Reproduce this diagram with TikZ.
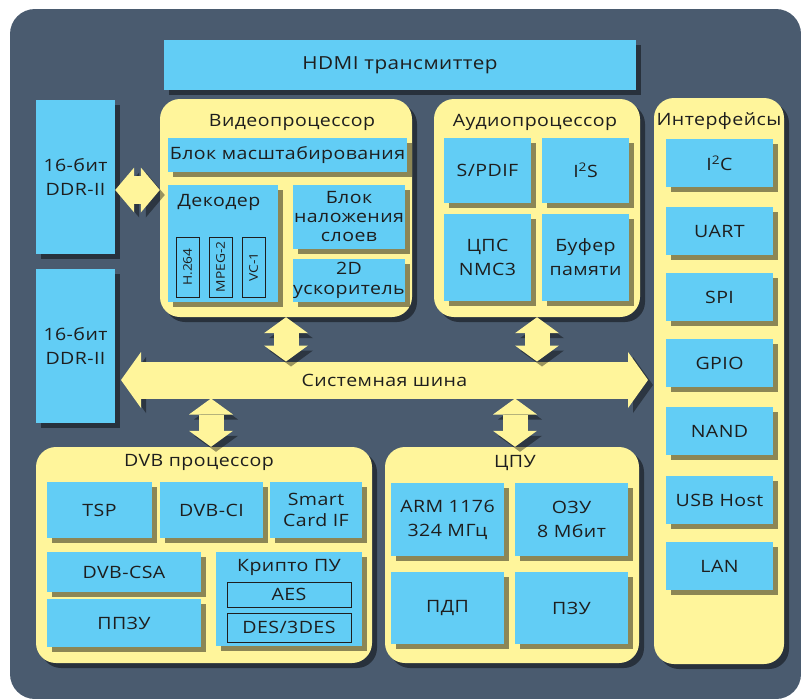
\documentclass[tikz,border=0pt]{standalone}
\usepackage{fontspec}
\setmainfont{Open Sans}[FakeStretch=1.15, LetterSpace=2.5]
\usetikzlibrary{positioning,shadows,arrows.meta}
\definecolor{slate}{HTML}{4A5B6F}
\definecolor{cream}{HTML}{FFF59B}
\definecolor{sky}{HTML}{62CDF5}
\definecolor{ink}{HTML}{1E1E1E}
\begin{document}
\begin{tikzpicture}[x=1pt, y=-1pt,
        shade/.style={drop shadow={shadow xshift=5pt, shadow yshift=-5pt, opacity=.45, fill=black}},
        unit/.style={rectangle, rounded corners=20pt, fill=cream, shade, inner sep=0pt},
        block/.style={rectangle, fill=sky, shade, text=ink, align=center, inner sep=0pt, font=\fontsize{17}{24}\selectfont},
        codec/.style={rectangle, draw=ink, thick, rotate=90, minimum width=60pt, minimum height=23pt, inner sep=0pt, text=ink, font=\addfontfeatures{LetterSpace=0}\fontsize{12}{15}\selectfont},
        cipher/.style={rectangle, draw=ink, thick, minimum width=124pt, inner sep=0pt, text=ink, font=\fontsize{17}{20}\selectfont},
        title/.style={text=ink, font=\fontsize{17}{20}\selectfont},
        port/.style={block, minimum width=107pt, minimum height=48pt},
        fat/.style args={#1/#2/#3}{draw=cream, line width=#1,
          {Triangle[width=#2,length=#3,line width=0pt 0]}-{Triangle[width=#2,length=#3,line width=0pt 0]},
          preaction={draw=black, opacity=.4, transform canvas={shift={(5pt,-5pt)}}}},
      ]
      \useasboundingbox (0,0) rectangle (801,699);
      \fill[slate, rounded corners=25pt] (10,9) rectangle (801,699);

      %Nodes
      \node[block, minimum width=472pt, minimum height=50pt, font=\fontsize{18}{21}\selectfont] (hdmi) at (400,65) {HDMI трансмиттер};
      \node[block, minimum width=79pt, minimum height=154pt] (ddr1) at (75.5,177) {16-бит\\DDR-II};
      \node[block, minimum width=79pt, minimum height=154pt] (ddr2) at (75.5,346) {16-бит\\DDR-II};

      \node[unit, minimum width=252pt, minimum height=218pt] (video) at (286,208) {};
      \node[title] (videot) at (292,122) {Видеопроцессор};
      \node[block, minimum width=239pt, minimum height=34pt] (scaler) at (287.5,155) {Блок масштабирования};
      \node[block, minimum width=110pt, minimum height=117pt] (decoder) at (223,243.5) {};
      \node[title] (decodert) at (219,202) {Декодер};
      \node[codec] (h264) at (187.5,267) {H.264};
      \node[codec] (mpeg) at (220.5,267) {MPEG-2};
      \node[codec] (vc1) at (253.5,267) {VC-1};
      \node[block, minimum width=112pt, minimum height=64pt, font=\fontsize{17}{19}\selectfont] (overlay) at (349,217) {Блок\\наложения\\слоев};
      \node[block, minimum width=112pt, minimum height=43pt, font=\fontsize{17}{20}\selectfont] (accel) at (349,280.5) {2D\\ускоритель};

      \node[unit, minimum width=206pt, minimum height=218pt] (audio) at (537,208) {};
      \node[title] (audiot) at (535,122) {Аудиопроцессор};
      \node[block, minimum width=87pt, minimum height=65pt] (spdif) at (487.5,170.5) {S/PDIF};
      \node[block, minimum width=87pt, minimum height=65pt] (i2s) at (585.5,170.5) {I\textsuperscript{2}S};
      \node[block, minimum width=87pt, minimum height=87pt] (dsp) at (487.5,257.5) {ЦПС\\NMC3};
      \node[block, minimum width=87pt, minimum height=87pt] (buffer) at (585.5,257.5) {Буфер\\памяти};

      \node[unit, minimum width=130pt, minimum height=566pt] (iface) at (719,381) {};
      \node[title] (ifacet) at (719,121) {Интерфейсы};
      \node[port] (i2c) at (719.5,163) {I\textsuperscript{2}C};
      \node[port] (uart) at (719.5,231) {UART};
      \node[port] (spi) at (719.5,297) {SPI};
      \node[port] (gpio) at (719.5,363) {GPIO};
      \node[port] (nand) at (719.5,431) {NAND};
      \node[port] (usb) at (719.5,500) {USB Host};
      \node[port] (lan) at (719.5,566) {LAN};

      \node[unit, minimum width=336pt, minimum height=216pt] (dvb) at (204,555) {};
      \node[title] (dvbt) at (199,462) {DVB процессор};
      \node[block, minimum width=105pt, minimum height=56pt] (tsp) at (99.5,510) {TSP};
      \node[block, minimum width=103pt, minimum height=56pt] (ci) at (211.5,510) {DVB-CI};
      \node[block, minimum width=92pt, minimum height=56pt, font=\fontsize{17}{21}\selectfont] (smart) at (316,510) {Smart\\Card IF};
      \node[block, minimum width=154pt, minimum height=40pt] (csa) at (124,572) {DVB-CSA};
      \node[block, minimum width=154pt, minimum height=48pt] (eeprom) at (124,623) {ППЗУ};
      \node[block, minimum width=146pt, minimum height=94pt] (crypto) at (289,599) {};
      \node[title] (cryptot) at (289,567) {Крипто ПУ};
      \node[cipher, minimum height=25pt] (aes) at (289,594.5) {AES};
      \node[cipher, minimum height=29pt] (des) at (289,627.5) {DES/3DES};

      \node[unit, minimum width=254pt, minimum height=216pt] (cpu) at (512,555) {};
      \node[title] (cput) at (515,463) {ЦПУ};
      \node[block, minimum width=113pt, minimum height=73pt] (arm) at (447.5,519.5) {ARM 1176\\324 МГц};
      \node[block, minimum width=113pt, minimum height=73pt] (ram) at (571.5,519.5) {ОЗУ\\8 Мбит};
      \node[block, minimum width=113pt, minimum height=72pt] (dma) at (447.5,608) {ПДП};
      \node[block, minimum width=113pt, minimum height=72pt] (rom) at (571.5,608) {ПЗУ};

      %Lines
      \coordinate (busw) at (121,380);
      \coordinate (buse) at (648,380);
      \draw[fat=37pt/56pt/20pt] (busw) -- node[title, minimum height=37pt, inner sep=0pt, outer sep=0pt] (bus) {Системная шина} (buse);

      \draw[fat=28pt/45pt/19pt] ([yshift=-13pt]ddr1.east) -- ([yshift=-13pt]ddr1.east -| video.west);

      \draw[fat=25pt/44pt/16pt] (video.south) -- (video.south |- bus.north);
      \draw[fat=25pt/44pt/16pt] (audio.south) -- (audio.south |- bus.north);
      \draw[fat=25pt/44pt/16pt] ([xshift=7pt]dvb.north |- bus.south) -- ([xshift=7pt]dvb.north);
      \draw[fat=25pt/44pt/16pt] ([xshift=3pt]cpu.north |- bus.south) -- ([xshift=3pt]cpu.north);
    \end{tikzpicture}
\end{document}
